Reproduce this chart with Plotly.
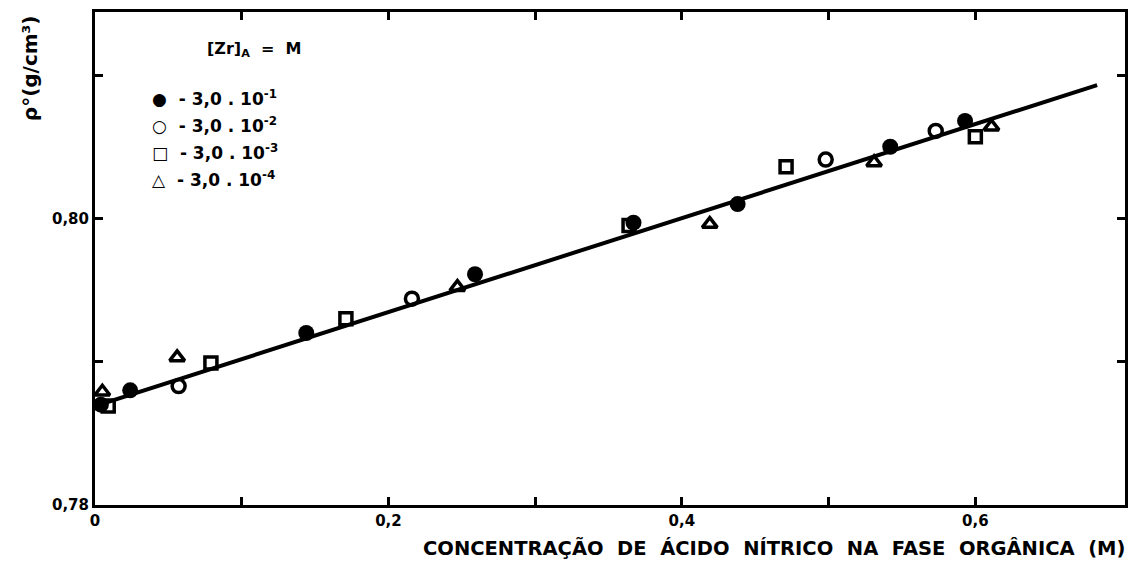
import plotly.graph_objects as go

# ---- data ----
x_filled = [0.004, 0.024, 0.144, 0.259, 0.367, 0.438, 0.542, 0.593]
y_filled = [0.7870, 0.7880, 0.7920, 0.7961, 0.7997, 0.8010, 0.8050, 0.8068]

x_open = [0.057, 0.216, 0.498, 0.573]
y_open = [0.7883, 0.7944, 0.8041, 0.8061]

x_square = [0.009, 0.079, 0.171, 0.364, 0.471, 0.600]
y_square = [0.7869, 0.7899, 0.7930, 0.7995, 0.8036, 0.8057]

x_tri = [0.005, 0.056, 0.247, 0.419, 0.531, 0.611]
y_tri = [0.7879, 0.7903, 0.7952, 0.7996, 0.8039, 0.8064]

x_fit = [0.0, 0.683]
y_fit = [0.7869, 0.8093]

x_tickvals = [0, 0.1, 0.2, 0.3, 0.4, 0.5, 0.6]
x_ticktext = ["<b>0</b>", "", "<b>0,2</b>", "", "<b>0,4</b>", "", "<b>0,6</b>"]
y_tickvals = [0.78, 0.79, 0.80, 0.81]
y_ticktext = ["<b>0,78</b>", "", "<b>0,80</b>", ""]

legend_labels = ["- 3,0 . 10<sup>-1</sup>", "- 3,0 . 10<sup>-2</sup>",
                 "- 3,0 . 10<sup>-3</sup>", "- 3,0 . 10<sup>-4</sup>"]
legend_symbols = ["●", "○", "□", "△"]

FONT = "DejaVu Sans"

fig = go.Figure()
fig.add_trace(go.Scatter(x=x_fit, y=y_fit, mode="lines",
                         line=dict(color="black", width=4), showlegend=False))
fig.add_trace(go.Scatter(x=x_filled, y=y_filled, mode="markers",
                         marker=dict(symbol="circle", size=16, color="black"),
                         showlegend=False))
fig.add_trace(go.Scatter(x=x_open, y=y_open, mode="markers",
                         marker=dict(symbol="circle-open", size=13, color="black",
                                     line=dict(width=3.5)), showlegend=False))
fig.add_trace(go.Scatter(x=x_square, y=y_square, mode="markers",
                         marker=dict(symbol="square-open", size=12, color="black",
                                     line=dict(width=3.5)), showlegend=False))
fig.add_trace(go.Scatter(x=x_tri, y=y_tri, mode="markers",
                         marker=dict(symbol="triangle-up-open", size=13, color="black",
                                     line=dict(width=3.5)), showlegend=False))

L, R, T, B = 95, 8, 12, 59
W, H = 1136, 564
pw, ph = W - L - R, H - T - B


def px(xp, yp):
    return (xp - L) / pw, (H - B - yp) / ph


annotations = []
# y axis title
ax, ay = px(30, 68)
annotations.append(dict(x=ax, y=ay, xref="paper", yref="paper",
                        xanchor="center", yanchor="middle",
                        text="<b>ρ°(g/cm³)</b>", textangle=-90, showarrow=False,
                        font=dict(family=FONT, size=20, color="black")))
# x axis title
ax, ay = px(1130, 548)
annotations.append(dict(x=ax, y=ay, xref="paper", yref="paper",
                        xanchor="right", yanchor="middle",
                        text="<b>CONCENTRAÇÃO  DE  ÁCIDO  NÍTRICO  NA  FASE  ORGÂNICA  (M)</b>",
                        showarrow=False,
                        font=dict(family=FONT, size=19.5, color="black")))
# legend title
ax, ay = px(205, 49)
annotations.append(dict(x=ax, y=ay, xref="paper", yref="paper",
                        xanchor="left", yanchor="middle",
                        text="<b>[Zr]<sub>A</sub>  =  M</b>", showarrow=False,
                        font=dict(family=FONT, size=16, color="black")))
rows_y = [98, 125, 152, 179]
for sym, lab, ry in zip(legend_symbols, legend_labels, rows_y):
    ax, ay = px(150, ry)
    annotations.append(dict(x=ax, y=ay, xref="paper", yref="paper",
                            xanchor="left", yanchor="middle",
                            text="<b>" + sym + "  " + lab + "</b>", showarrow=False,
                            font=dict(family=FONT, size=17, color="black")))

fig.update_layout(
    width=W, height=H,
    margin=dict(l=L, r=R, t=T, b=B),
    paper_bgcolor="white", plot_bgcolor="white",
    annotations=annotations,
    xaxis=dict(range=[0, 0.702], tickvals=x_tickvals, ticktext=x_ticktext,
               ticks="inside", ticklen=8, tickwidth=2.5, tickcolor="black",
               showline=True, linewidth=3, linecolor="black", mirror="ticks",
               showgrid=False, zeroline=False,
               tickfont=dict(family=FONT, size=15, color="black")),
    yaxis=dict(range=[0.78, 0.8144], tickvals=y_tickvals, ticktext=y_ticktext,
               ticks="inside", ticklen=8, tickwidth=2.5, tickcolor="black",
               showline=True, linewidth=3, linecolor="black", mirror="ticks",
               showgrid=False, zeroline=False,
               tickfont=dict(family=FONT, size=15, color="black")),
)

fig.write_html("out.html")
